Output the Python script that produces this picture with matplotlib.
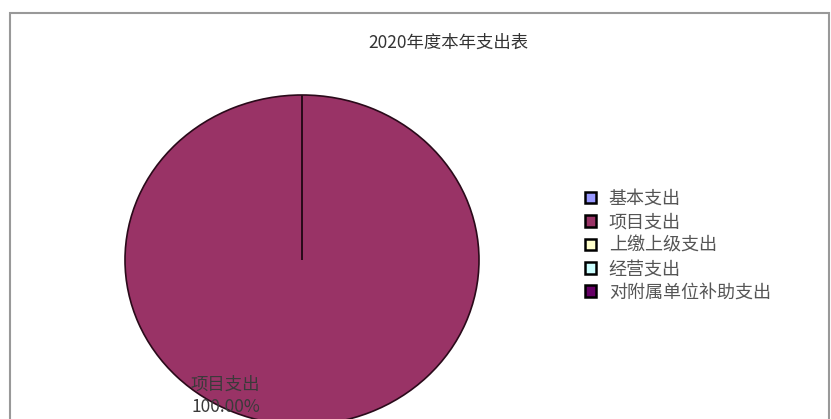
import matplotlib.pyplot as plt
from matplotlib.patches import Rectangle
import numpy as np

plt.rcParams['font.family'] = ['Noto Sans CJK SC', 'DejaVu Sans']

title = "2020年度本年支出表"
categories = ["基本支出", "项目支出", "上缴上级支出", "经营支出", "对附属单位补助支出"]
values = [0, 100, 0, 0, 0]
colors = ["#9999FF", "#993366", "#FFFFCC", "#CCFFFF", "#660066"]

W, H = 831, 419
fig = plt.figure(figsize=(W / 100, H / 100), dpi=100)
ax = fig.add_axes([0, 0, 1, 1])

wedges, _ = ax.pie(values, colors=colors, startangle=90, counterclock=False,
                   radius=1, center=(0, 0),
                   wedgeprops=dict(edgecolor="#2a0a1a", linewidth=1.2))

# picture is slightly stretched, so the pie is drawn as an ellipse
cx, cy, rx, ry = 302, 260, 177, 165
ax.set_aspect('auto')
ax.set_xlim(-cx / rx, (W - cx) / rx)
ax.set_ylim((cy - H) / ry, cy / ry)
ax.axis('off')

# data label for the non-zero slice, lower left like the original
total = sum(values)
for name, v in zip(categories, values):
    if v > 0:
        ang = np.deg2rad(242)
        ax.text(0.92 * np.cos(ang), 0.92 * np.sin(ang) - 0.01,
                f"{name}\n{v / total * 100:.2f}%", ha='center', va='center',
                fontsize=12.5, color="#3a3a3a", linespacing=1.3)

fig.text(448 / W, 1 - 43 / H, title, ha='center', va='center',
         fontsize=12.5, color="#333333")

leg = fig.legend(wedges, categories, loc='upper left',
                 bbox_to_anchor=(585 / W, 1 - 190 / H),
                 frameon=False, fontsize=13, handlelength=0.62,
                 handleheight=0.62, handletextpad=0.7, labelspacing=0.3,
                 borderpad=0, borderaxespad=0)
for t in leg.get_texts():
    t.set_color("#555555")
for h in leg.legend_handles:
    h.set_edgecolor("black")
    h.set_linewidth(1.8)

# chart frame
fig.patches.append(Rectangle((10 / W, -0.1), 819 / W, 1.1 - 13 / H,
                             transform=fig.transFigure, fill=False,
                             edgecolor="#999999", linewidth=1.5))

fig.savefig("out.png", dpi=100)
